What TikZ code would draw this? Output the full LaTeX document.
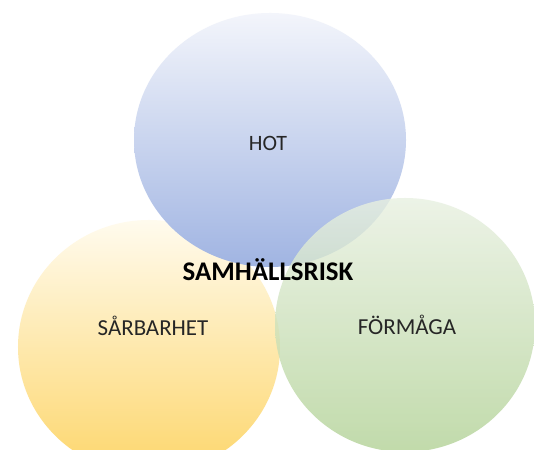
\documentclass[tikz,border=0pt]{standalone}
\usepackage{fontspec}
\setmainfont{Carlito}
\usepackage{tikz}
\usetikzlibrary{shapes.geometric}

\definecolor{hotTop}{RGB}{243,245,251}
\definecolor{hotMid}{RGB}{200,212,238}
\definecolor{hotBot}{RGB}{160,180,226}
\definecolor{sarTop}{RGB}{255,251,238}
\definecolor{sarMid}{RGB}{254,236,188}
\definecolor{sarBot}{RGB}{253,214,108}
\definecolor{forTop}{RGB}{232,240,225}
\definecolor{forMid}{RGB}{205,225,190}
\definecolor{forBot}{RGB}{178,210,150}

\tikzset{
  ring/.style={ellipse, draw=none, minimum height=254bp, inner sep=0pt},
  lbl/.style={font=\fontsize{23}{25}\selectfont, text=black!85}
}

\begin{document}
\begin{tikzpicture}[x=1bp,y=1bp]
     \useasboundingbox (0,0) rectangle (534,450);
     \fill[white] (0,0) rectangle (534,450);

     % the three circles
     \node[ring, minimum width=262bp, top color=sarTop, middle color=sarMid, bottom color=sarBot] (sar) at (149,103) {};
     \node[ring, minimum width=272bp, top color=hotTop, middle color=hotMid, bottom color=hotBot] (hot) at (270,310) {};
     \node[ring, minimum width=260bp, top color=forTop, middle color=forMid, bottom color=forBot, opacity=0.8] (for) at (405,125) {};

     % texts
     \node[lbl, font=\fontsize{22}{24}\selectfont] (hotText) at (268,307) {HOT};
     \node[lbl] (sarText) at (153,124) {SÅRBARHET};
     \node[lbl] (forText) at (407,125) {FÖRMÅGA};
     \node[lbl, font=\fontsize{27}{29}\selectfont\bfseries, text=black] (risk) at (268,180) {SAMHÄLLSRISK};
\end{tikzpicture}
\end{document}
